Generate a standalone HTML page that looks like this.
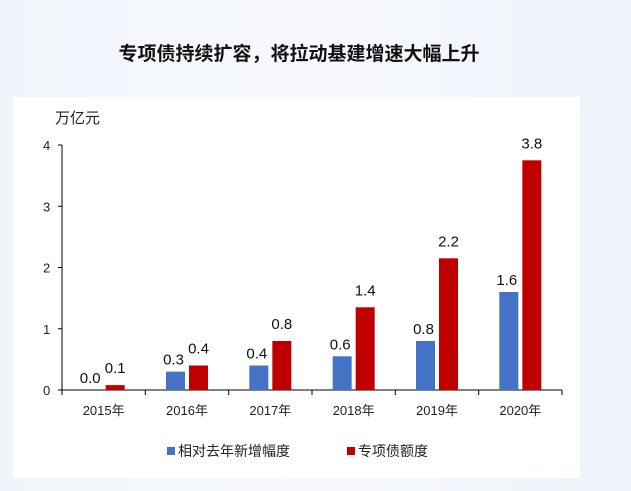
<!DOCTYPE html>
<html><head><meta charset="utf-8"><style>
body{margin:0;width:631px;height:491px;overflow:hidden;background:linear-gradient(90deg,#f1f5fb,#f7f9fd 50%,#eef3fa);font-family:"Liberation Sans","Noto Sans CJK SC",sans-serif}
</style></head><body>
<svg width="631" height="491" style="position:absolute;left:0;top:0">
<rect x="13" y="97" width="567" height="381" fill="#fff"/>
<text x="299" y="60" text-anchor="middle" font-size="19" font-weight="bold" fill="#111" font-family="Noto Sans CJK SC,sans-serif">专项债持续扩容，将拉动基建增速大幅上升</text>
<text x="55" y="123" font-size="15" fill="#222" font-family="Noto Sans CJK SC,sans-serif">万亿元</text>
<g id="g"></g>
<g>
<rect x="167" y="447" width="8" height="8" fill="#4472c4"/>
<text x="178" y="456" font-size="14" fill="#222" font-family="Noto Sans CJK SC,sans-serif">相对去年新增幅度</text>
<rect x="347" y="447" width="8" height="8" fill="#c00000"/>
<text x="358" y="456" font-size="14" fill="#222" font-family="Noto Sans CJK SC,sans-serif">专项债额度</text>
</g>
</svg>
<script>
const categories=["2015年","2016年","2017年","2018年","2019年","2020年"];
const increaseValues=[0,0.3,0.4,0.55,0.8,1.6];
const bondValues=[0.08,0.4,0.8,1.35,2.15,3.75];
const increaseLabels=["0.0","0.3","0.4","0.6","0.8","1.6"];
const bondLabels=["0.1","0.4","0.8","1.4","2.2","3.8"];
const yTicks=[0,1,2,3,4];
const NS="http://www.w3.org/2000/svg",g=document.getElementById('g');
const x0=62,x1=562,y0=390,ppu=61.25,cw=(x1-x0)/categories.length;
const y=v=>y0-v*ppu;
function mk(t,a,txt){const e=document.createElementNS(NS,t);for(const k in a)e.setAttribute(k,a[k]);if(txt!=null)e.textContent=txt;g.appendChild(e);return e;}
let e=mk('line',{x1:x0,y1:y(4),x2:x0,y2:y0,stroke:'#000'});


e=mk('line',{x1:x0,y1:y0,x2:x1,y2:y0,stroke:'#000'});


yTicks.forEach(t=>{
 e=mk('line',{x1:x0-4,y1:y(t),x2:x0,y2:y(t),stroke:'#000'});
 
 
 e=mk('text',{x:43,y:y(t)+5,'font-size':13,fill:'#222'},t);
 
 
});
for(let i=0;i<=categories.length;i++){
 e=mk('line',{x1:x0+i*cw,y1:y0,x2:x0+i*cw,y2:y0+5,stroke:'#000'});
 
 
}
categories.forEach((c,i)=>{
 const cx=x0+cw*(i+0.5);
 e=mk('text',{x:cx,y:415,'text-anchor':'middle','font-size':13,fill:'#222'},c);
 
 
 const bx=cx-21,rx=cx+2;
 e=mk('rect',{x:bx,y:y(increaseValues[i]),width:19,height:increaseValues[i]*ppu,fill:'#4472c4'});
 
 
 e=mk('rect',{x:rx,y:y(bondValues[i]),width:19,height:bondValues[i]*ppu,fill:'#c00000'});
 
 
 e=mk('text',{x:bx+9.5-2,y:y(increaseValues[i])-7,'text-anchor':'middle','font-size':15,fill:'#111'},increaseLabels[i]);
 
 
 e=mk('text',{x:rx+9.5,y:y(bondValues[i])-12,'text-anchor':'middle','font-size':15,fill:'#111'},bondLabels[i]);
 
 
});
</script>
</body></html>
